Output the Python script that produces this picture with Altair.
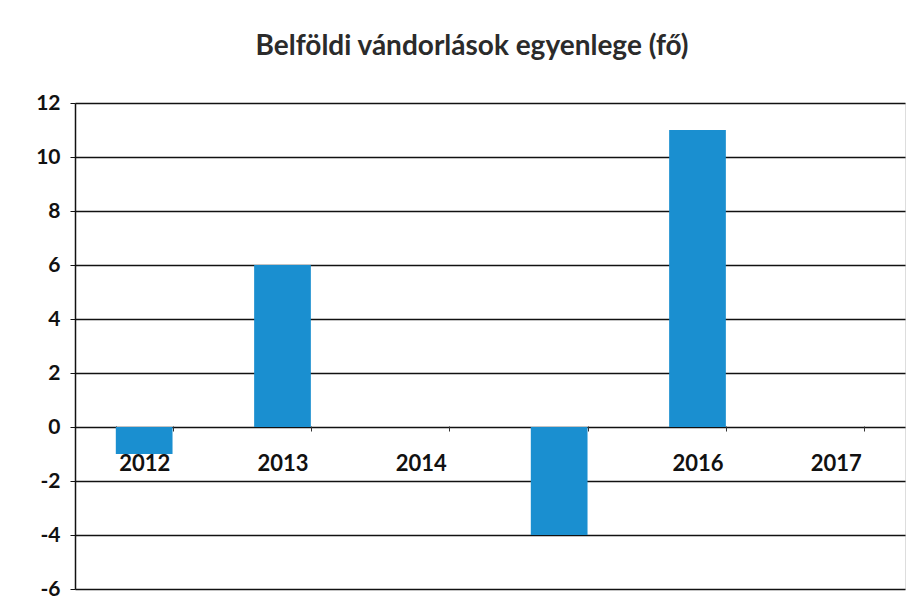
import altair as alt
import pandas as pd

years = ["2012", "2013", "2014", "2015", "2016", "2017"]
values = [-1, 6, 0, -4, 11, 0]
y_ticks = [-6, -4, -2, 0, 2, 4, 6, 8, 10, 12]

df = pd.DataFrame({"year": years, "value": values})

bars = alt.Chart(df).mark_bar(color="#1a8fd0").encode(
    x=alt.X(
        "year:N",
        sort=years,
        scale=alt.Scale(paddingInner=0.59, paddingOuter=0.295),
        axis=alt.Axis(
            title=None,
            orient="bottom",
            offset=-163,
            labelAngle=0,
            labelPadding=22,
            labelFont="Lato",
            labelFontSize=22,
            labelFontWeight="bold",
            labelColor="#111111",
            domain=False,
            ticks=True,
            tickBand="extent",
            tickColor="#333333",
            tickSize=5,
            grid=False,
            zindex=0,
        ),
    ),
    y=alt.Y(
        "value:Q",
        scale=alt.Scale(domain=[-6, 12], nice=False, zero=True),
        axis=alt.Axis(
            title=None,
            values=y_ticks,
            labelExpr="replace(datum.label, '\u2212', '-')",
            labelFont="Lato",
            labelFontSize=21,
            labelFontWeight="bold",
            labelColor="#111111",
            labelPadding=10,
            domain=True,
            domainColor="#111111",
            domainWidth=1.5,
            ticks=True,
            tickColor="#111111",
            tickSize=5,
            grid=True,
            gridColor="#111111",
            gridWidth=1.4,
            gridOpacity=1,
            zindex=0,
        ),
    ),
)

chart = bars.properties(
    width=830,
    height=486,
    title=alt.TitleParams(
        "Belföldi vándorlások egyenlege (fő)",
        font="Lato",
        fontSize=28,
        fontWeight="bold",
        color="#2b2b2b",
        anchor="middle",
        offset=31,
        dx=-18,
    ),
    autosize=alt.AutoSizeParams(type="none"),
    padding={"left": 67, "top": 95, "right": 8, "bottom": 19},
).configure_view(stroke=None).configure(background="white")

chart.save("out.html", embed_options={"renderer": "svg", "actions": False})
